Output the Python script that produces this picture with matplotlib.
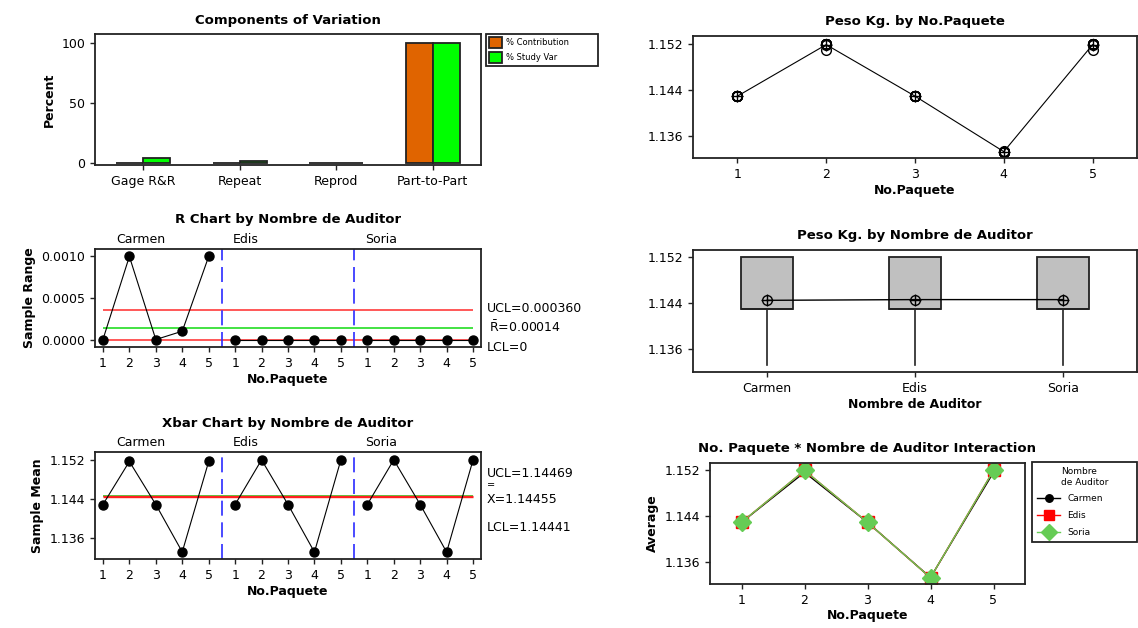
import matplotlib.pyplot as plt
import matplotlib.transforms as mtransforms
import numpy as np

plt.rcParams['font.family'] = 'DejaVu Sans'
plt.rcParams['font.size'] = 9
plt.rcParams['mathtext.fontset'] = 'dejavusans'

# ---- data ----
components = ['Gage R&R', 'Repeat', 'Reprod', 'Part-to-Part']
pct_contribution = [0.2, 0.05, 0.0, 99.8]
pct_study_var = [4.5, 2.0, 0.0, 99.9]

auditors = ['Carmen', 'Edis', 'Soria']
packets = [1, 2, 3, 4, 5]

# weight (kg) per packet, 3 trials each
carmen = [[1.1429, 1.1429, 1.1429],
          [1.1520, 1.1520, 1.1510],
          [1.1429, 1.1429, 1.1429],
          [1.1332, 1.1332, 1.1333],
          [1.1520, 1.1520, 1.1510]]
edis = [[1.1429, 1.1429, 1.1429],
        [1.1520, 1.1520, 1.1520],
        [1.1429, 1.1429, 1.1429],
        [1.1332, 1.1332, 1.1332],
        [1.1520, 1.1520, 1.1520]]
soria = [[1.1429, 1.1429, 1.1429],
         [1.1520, 1.1520, 1.1520],
         [1.1429, 1.1429, 1.1429],
         [1.1332, 1.1332, 1.1332],
         [1.1520, 1.1520, 1.1520]]

r_ucl, r_bar, r_lcl = 0.000360, 0.00014, 0.0
x_ucl, x_bar, x_lcl = 1.14469, 1.14455, 1.14441

weights = np.array([carmen, edis, soria])          # auditor x packet x trial
ranges = weights.max(axis=2) - weights.min(axis=2)
means = weights.mean(axis=2)

W, H = 1138, 628
DARK = '#222222'


def box(x0, y0, x1, y1):
    return [x0 / W, 1 - y1 / H, (x1 - x0) / W, (y1 - y0) / H]


def style(ax):
    for s in ax.spines.values():
        s.set_linewidth(1.3)
        s.set_color(DARK)
    ax.tick_params(direction='out', length=3.5, width=1, labelsize=9,
                   top=False, right=False, color=DARK)


def cross_circle(ax, x, y):
    ax.plot(x, y, 'o', mfc='none', mec='black', ms=7, mew=1)
    ax.plot(x, y, '+', color='black', ms=8, mew=1)


def minitab_box_stats(values):
    # quartiles at (n+1)p like Minitab, whiskers to the furthest point within 1.5 IQR
    v = np.sort(values)
    q1, med, q3 = np.percentile(v, [25, 50, 75], method='weibull')
    iqr = q3 - q1
    lo = v[v >= q1 - 1.5 * iqr].min()
    hi = v[v <= q3 + 1.5 * iqr].max()
    return dict(q1=q1, med=med, q3=q3, whislo=lo, whishi=hi, fliers=[])


fig = plt.figure(figsize=(11.38, 6.28), dpi=100)

# ---- Components of Variation ----
ax = fig.add_axes(box(95, 34, 481, 165))
style(ax)
xc = np.arange(1, len(components) + 1)
w = 0.28
b1 = ax.bar(xc - w / 2, pct_contribution, w, color='#E06400', edgecolor=DARK, lw=1.3)
b2 = ax.bar(xc + w / 2, pct_study_var, w, color='#00FF00', edgecolor=DARK, lw=1.3)
ax.set_xlim(0.5, 4.5)
ax.set_ylim(-1.5, 107.5)
ax.set_yticks([0, 50, 100])
ax.set_xticks(xc)
ax.set_xticklabels(components)
ax.set_ylabel('Percent', fontweight='bold')
ax.set_title('Components of Variation', fontweight='bold', fontsize=9.5, pad=7)
leg = fig.legend([b1, b2], ['% Contribution', '% Study Var'], loc='upper left',
                 bbox_to_anchor=(486 / W, 1 - 72 / H, 112 / W, 38 / H), mode='expand',
                 fontsize=6, fancybox=False, edgecolor=DARK, framealpha=1,
                 handlelength=1.6, handleheight=1.6, borderaxespad=0, borderpad=0.35,
                 labelspacing=0.55, handletextpad=0.5)
leg.get_frame().set_linewidth(1.3)

# ---- R chart ----
xs = np.arange(1, 16)
tick_labels = [str(p) for p in packets] * 3


def subgroup_axes(ax, ylim):
    ax.set_xlim(0.7, 15.3)
    ax.set_ylim(*ylim)
    ax.set_xticks(xs)
    ax.set_xticklabels(tick_labels)
    ax.set_xlabel('No.Paquete', fontweight='bold', labelpad=2)
    for xv in (5.5, 10.5):
        ax.axvline(xv, color='#2B2BFF', lw=1.2, dashes=(9, 4))
    trans = mtransforms.blended_transform_factory(ax.transData, ax.transAxes)
    for xv, name in zip((1.5, 5.9, 10.9), auditors):
        ax.text(xv, 1.03, name, transform=trans, ha='left', va='bottom', fontsize=9)


ax = fig.add_axes(box(95, 249, 481, 347))
style(ax)
ax.hlines([r_lcl, r_ucl], 1, 15, color='#FF3B3B', lw=1.2)
ax.hlines(r_bar, 1, 15, color='#22DD22', lw=1.2)
for i in range(3):
    ax.plot(xs[i * 5:(i + 1) * 5], ranges[i], color='black', lw=0.8,
            marker='o', ms=6.5, zorder=3)
subgroup_axes(ax, (-0.00009, 0.00109))
ax.set_yticks([0, 0.0005, 0.001])
ax.set_yticklabels(['0.0000', '0.0005', '0.0010'])
ax.set_ylabel('Sample Range', fontweight='bold')
ax.set_title('R Chart by Nombre de Auditor', fontweight='bold', fontsize=9.5, pad=19)
ax.text(1.015, 0.39, 'UCL=0.000360', transform=ax.transAxes, va='center')
ax.text(1.02, 0.20, r'$\bar{\mathrm{R}}$=0.00014', transform=ax.transAxes, va='center')
ax.text(1.015, -0.01, 'LCL=0', transform=ax.transAxes, va='center')

# ---- Xbar chart ----
ax = fig.add_axes(box(95, 452, 481, 559))
style(ax)
ax.hlines(x_bar, 1, 15, color='#22DD22', lw=1.2)
ax.hlines([x_lcl, x_ucl], 1, 15, color='#FF2020', lw=1.0)
for i in range(3):
    ax.plot(xs[i * 5:(i + 1) * 5], means[i], color='black', lw=0.8,
            marker='o', ms=6.5, zorder=3)
subgroup_axes(ax, (1.1318, 1.1536))
ax.set_yticks([1.136, 1.144, 1.152])
ax.set_yticklabels(['1.136', '1.144', '1.152'])
ax.set_ylabel('Sample Mean', fontweight='bold')
ax.set_title('Xbar Chart by Nombre de Auditor', fontweight='bold', fontsize=9.5, pad=18)
ax.text(1.015, 0.80, 'UCL=1.14469', transform=ax.transAxes, va='center')
ax.text(1.015, 0.69, '=', transform=ax.transAxes, va='center', fontsize=7)
ax.text(1.015, 0.56, 'X=1.14455', transform=ax.transAxes, va='center')
ax.text(1.015, 0.29, 'LCL=1.14441', transform=ax.transAxes, va='center')

# ---- Peso Kg. by No.Paquete ----
ax = fig.add_axes(box(693, 36, 1137, 158))
style(ax)
for j, p in enumerate(packets):
    obs = weights[:, j, :].ravel()
    ax.plot(np.full(obs.size, p), obs, 'o', mfc='none', mec='black', ms=7, mew=1)
packet_means = weights.mean(axis=(0, 2))
ax.plot(packets, packet_means, color='black', lw=0.8)
cross_circle(ax, packets, packet_means)
ax.set_xlim(0.5, 5.5)
ax.set_ylim(1.1321, 1.1534)
ax.set_xticks(packets)
ax.set_yticks([1.136, 1.144, 1.152])
ax.set_yticklabels(['1.136', '1.144', '1.152'])
ax.set_xlabel('No.Paquete', fontweight='bold', labelpad=2)
ax.set_title('Peso Kg. by No.Paquete', fontweight='bold', fontsize=9.5, pad=8)

# ---- Peso Kg. by Nombre de Auditor ----
ax = fig.add_axes(box(693, 250, 1137, 372))
style(ax)
by_auditor = [weights[i].ravel() for i in range(3)]
stats = [minitab_box_stats(v) for v in by_auditor]
ax.bxp(stats, positions=[1, 2, 3], widths=0.35, patch_artist=True,
       showcaps=False, showfliers=False,
       boxprops=dict(facecolor='#C0C0C0', edgecolor=DARK, lw=1.3),
       whiskerprops=dict(color=DARK, lw=1.2),
       medianprops=dict(color=DARK, lw=1.3))
auditor_means = [v.mean() for v in by_auditor]
ax.plot([1, 2, 3], auditor_means, color='black', lw=1)
cross_circle(ax, [1, 2, 3], auditor_means)
ax.set_xlim(0.5, 3.5)
ax.set_ylim(1.1319, 1.1533)
ax.set_xticks([1, 2, 3])
ax.set_xticklabels(auditors)
ax.set_yticks([1.136, 1.144, 1.152])
ax.set_yticklabels(['1.136', '1.144', '1.152'])
ax.set_xlabel('Nombre de Auditor', fontweight='bold', labelpad=2)
ax.set_title('Peso Kg. by Nombre de Auditor', fontweight='bold', fontsize=9.5, pad=8)

# ---- Interaction ----
ax = fig.add_axes(box(710, 463, 1025, 584))
style(ax)
colors = ['black', '#FF0000', '#66CC55']
markers = ['o', 's', 'D']
sizes = [6, 8, 9]
handles = []
for i in range(3):
    h, = ax.plot(packets, means[i], color=colors[i], lw=1, marker=markers[i],
                 ms=sizes[i], mec=colors[i])
    handles.append(h)
ax.set_xlim(0.5, 5.5)
ax.set_ylim(1.1321, 1.1533)
ax.set_xticks(packets)
ax.set_yticks([1.136, 1.144, 1.152])
ax.set_yticklabels(['1.136', '1.144', '1.152'])
ax.set_xlabel('No.Paquete', fontweight='bold', labelpad=2)
ax.set_ylabel('Average', fontweight='bold')
ax.set_title('No. Paquete * Nombre de Auditor Interaction', fontweight='bold',
             fontsize=9.5, pad=8)
leg = fig.legend(handles, auditors, loc='upper left', title='Nombre\nde Auditor',
                 bbox_to_anchor=(1032 / W, 1 - 549 / H, 105 / W, 87 / H), mode='expand',
                 fontsize=6.5, title_fontsize=6.5, fancybox=False, edgecolor=DARK,
                 framealpha=1, handlelength=2.5, borderaxespad=0, labelspacing=0.85,
                 borderpad=0.6, markerscale=0.9)
leg.get_frame().set_linewidth(1.3)

fig.savefig('out.png', dpi=100)
